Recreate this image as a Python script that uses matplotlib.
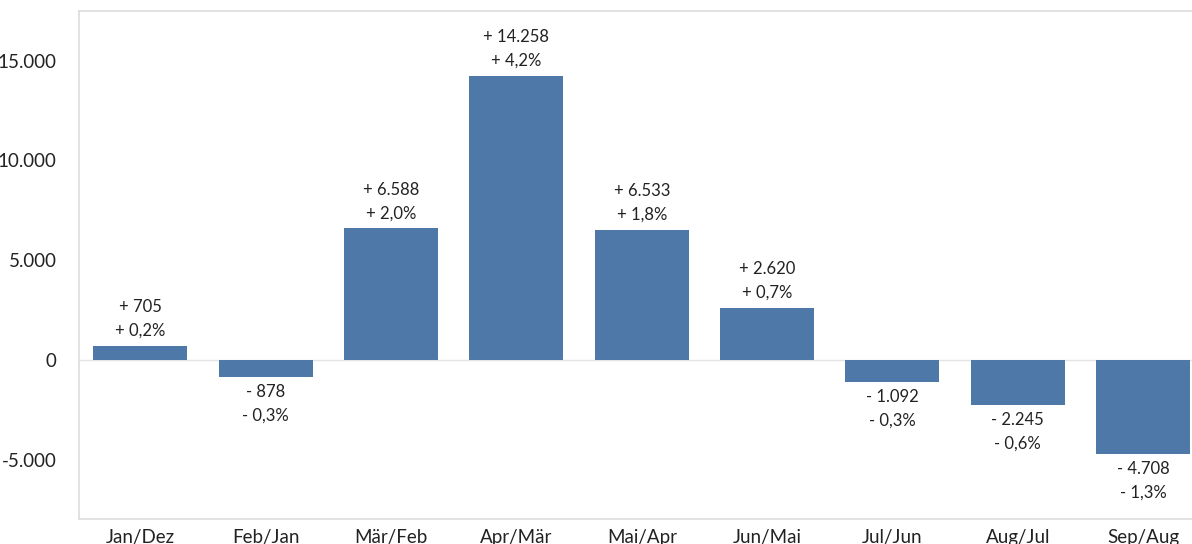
import matplotlib.pyplot as plt
from matplotlib.ticker import FuncFormatter

plt.rcParams['font.family'] = ['Lato', 'DejaVu Sans']

# Veränderung zum Vormonat
monate = ["Jan/Dez", "Feb/Jan", "Mär/Feb", "Apr/Mär", "Mai/Apr",
          "Jun/Mai", "Jul/Jun", "Aug/Jul", "Sep/Aug"]
diff = [705, -878, 6588, 14258, 6533, 2620, -1092, -2245, -4708]
prozent = [0.2, -0.3, 2.0, 4.2, 1.8, 0.7, -0.3, -0.6, -1.3]


def de_zahl(v):
    return f"{abs(v):,}".replace(",", ".")


fig = plt.figure(figsize=(11.92, 5.44), dpi=100)
ax = fig.add_axes([0.0663, 0.046, 0.94, 0.934])

x = range(len(monate))
ax.bar(x, diff, width=0.75, color="#4e78a8", zorder=2)
ax.axhline(0, color="#e4e4e4", lw=1, zorder=1)

for i, (d, p) in enumerate(zip(diff, prozent)):
    sign = "+" if d >= 0 else "-"
    pct = f"{abs(p):.1f}".replace(".", ",")
    txt = f"{sign} {de_zahl(d)}\n{sign} {pct}%"
    off = 5 if d >= 0 else -5
    ax.annotate(txt, (i, d), xytext=(0, off), textcoords="offset points",
                ha="center", va="bottom" if d >= 0 else "top",
                fontsize=12, color="#222222", linespacing=1.6)

ax.set_xlim(-0.49, 8.45)
ax.set_ylim(-7980, 17500)
ax.set_xticks(list(x))
ax.set_xticklabels(monate, fontsize=13.5, color="#222222")
ax.set_yticks([-5000, 0, 5000, 10000, 15000])
ax.yaxis.set_major_formatter(FuncFormatter(
    lambda v, _: ("-" if v < 0 else "") + de_zahl(int(v))))
ax.tick_params(axis="y", labelsize=13.5, colors="#222222", length=0, pad=16)
ax.tick_params(axis="x", length=0, pad=7)

for s in ["left", "top", "bottom"]:
    ax.spines[s].set_color("#dddddd")
    ax.spines[s].set_linewidth(1.2)
ax.spines["right"].set_visible(False)

fig.savefig("out.png", dpi=100)
